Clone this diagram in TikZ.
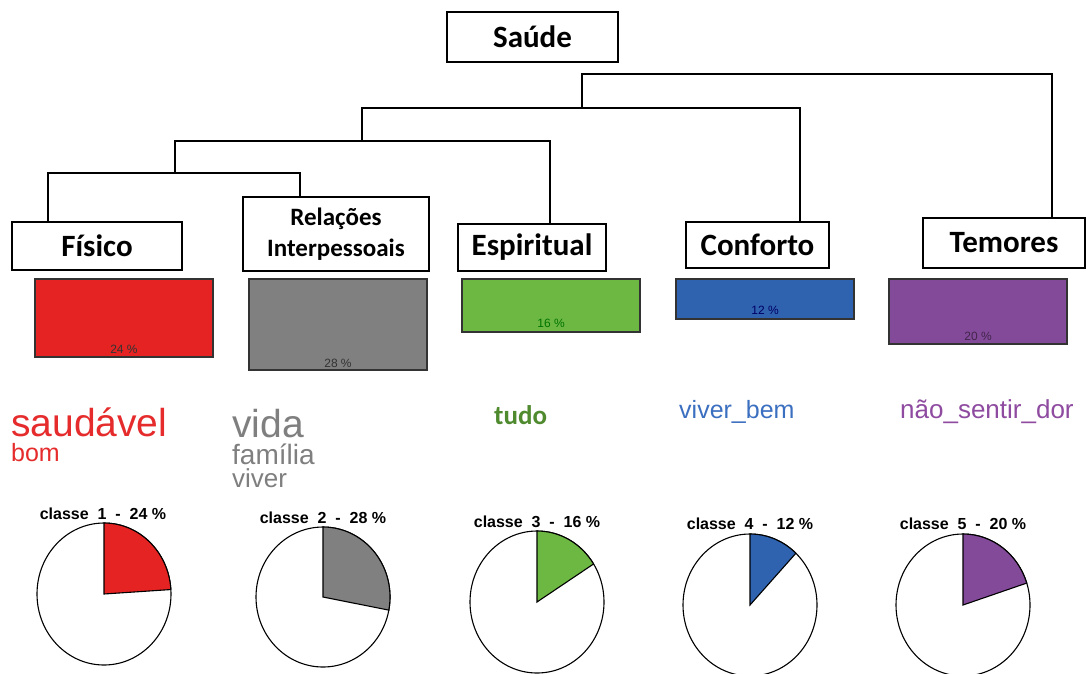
\documentclass[tikz,border=0pt]{standalone}
\usepackage{fontspec}
\setmainfont{Liberation Sans}
\newfontfamily\boxfont{Carlito}
\usetikzlibrary{shapes.geometric}
\definecolor{cred}{HTML}{E42322}
\definecolor{cgray}{HTML}{808080}
\definecolor{cgreen}{HTML}{6DB843}
\definecolor{cblue}{HTML}{2F63AF}
\definecolor{cpurple}{HTML}{834A99}
\definecolor{tred}{HTML}{E52B2B}
\definecolor{tgray}{HTML}{7F7F7F}
\definecolor{tgreen}{HTML}{4F8A2F}
\definecolor{tblue}{HTML}{3B6FC0}
\definecolor{tpurple}{HTML}{8E4BA0}
\tikzset{
  catbox/.style={draw=black, line width=1.3pt, fill=white, inner sep=0pt, outer sep=0pt, anchor=north west, font=\boxfont\bfseries\fontsize{31}{33}\selectfont, align=center},
  link/.style={draw=black, line width=1.4pt},
  bar/.style={draw=black!80, line width=1.3pt, inner sep=0pt, outer sep=0pt, anchor=north west, minimum width=178pt},
  pct/.style={font=\fontsize{12}{13}\selectfont, inner sep=0pt, anchor=base},
  word/.style={inner sep=0pt, anchor=base west},
  pie/.style={ellipse, draw=black, line width=1.1pt, fill=white, inner sep=0pt, outer sep=0pt},
  slice/.style={draw=black, line width=1.1pt},
  pietitle/.style={font=\bfseries\fontsize{16}{18}\selectfont, inner sep=0pt, anchor=base}
}
\begin{document}
\begin{tikzpicture}[x=1pt, y=-1pt]
\useasboundingbox[fill=white] (0,0) rectangle (1086,673);
% top box
\node[catbox, minimum width=171pt, minimum height=50pt] (saude) at (447,12) {Saúde};
% category boxes
\node[catbox, minimum width=170pt, minimum height=48pt] (fis) at (12,222) {Físico};
\node[catbox, minimum width=186pt, minimum height=74pt, font=\boxfont\bfseries\fontsize{25}{31}\selectfont] (rel) at (243,197) {Relações\\Interpessoais};
\node[catbox, minimum width=148pt, minimum height=47pt] (esp) at (458,224) {Espiritual};
\node[catbox, minimum width=143pt, minimum height=46pt] (conf) at (686,222) {Conforto};
\node[catbox, minimum width=162pt, minimum height=50pt] (tem) at (923,218) {Temores};
% dendrogram
\coordinate (a1) at (48,173); \coordinate (b1) at (300,173);
\draw[link] (fis.north -| a1) -- (a1) -- (b1) -- (rel.north -| b1);
\coordinate (m1) at (175,173); \coordinate (a2) at (175,141); \coordinate (b2) at (550,141);
\draw[link] (m1) -- (a2) -- (b2) -- (esp.north -| b2);
\coordinate (m2) at (362,141); \coordinate (a3) at (362,108); \coordinate (b3) at (800,108);
\draw[link] (m2) -- (a3) -- (b3) -- (conf.north -| b3);
\coordinate (m3) at (582,108); \coordinate (a4) at (582,74); \coordinate (b4) at (1052,74);
\draw[link] (m3) -- (a4) -- (b4) -- (tem.north -| b4);
% bars
\node[bar, fill=cred, minimum height=78pt] (bar1) at (35,279) {};
\node[bar, fill=cgray, minimum height=91pt] (bar2) at (249,279) {};
\node[bar, fill=cgreen, minimum height=53pt] (bar3) at (462,279) {};
\node[bar, fill=cblue, minimum height=40pt] (bar4) at (676,279) {};
\node[bar, fill=cpurple, minimum height=65pt] (bar5) at (889,279) {};
\node[pct, text=black!80] (q1) at ([yshift=4pt]bar1.south) {24 \%};
\node[pct, text=black!80] (q2) at ([yshift=3pt]bar2.south) {28 \%};
\node[pct, text=green!45!black] (q3) at ([yshift=5pt]bar3.south) {16 \%};
\node[pct, text=blue!40!black] (q4) at ([yshift=5pt]bar4.south) {12 \%};
\node[pct, text=cpurple!50!black] (q5) at ([yshift=4pt]bar5.south) {20 \%};
% words
\node[word, text=tred, font=\fontsize{39}{40}\selectfont] (w1) at (11,436) {saudável};
\node[word, text=tred, font=\fontsize{25}{26}\selectfont] (w2) at (11,461) {bom};
\node[word, text=tgray, font=\fontsize{39}{40}\selectfont] (w3) at (232,437) {vida};
\node[word, text=tgray, font=\fontsize{28}{29}\selectfont] (w4) at (232,464) {família};
\node[word, text=tgray, font=\fontsize{26}{27}\selectfont] (w5) at (232,487) {viver};
\node[word, text=tgreen, font=\boxfont\bfseries\fontsize{27}{28}\selectfont] (w6) at (494,424) {tudo};
\node[word, text=tblue, font=\fontsize{25}{26}\selectfont] (w7) at (679,418) {viver\_bem};
\node[word, text=tpurple, font=\fontsize{26}{27}\selectfont] (w8) at (900,418) {não\_sentir\_dor};
% pies
\node[pie, minimum width=134pt, minimum height=142pt] (p1) at (104,594) {};
\filldraw[slice, fill=cred] (p1.center) -- (p1.north) arc[start angle=90, end angle=3.6, x radius=67pt, y radius=71pt] -- cycle;
\node[pie, minimum width=134pt, minimum height=140pt] (p2) at (323,597) {};
\filldraw[slice, fill=cgray] (p2.center) -- (p2.north) arc[start angle=90, end angle=-10.8, x radius=67pt, y radius=70pt] -- cycle;
\node[pie, minimum width=134pt, minimum height=142pt] (p3) at (537,602) {};
\filldraw[slice, fill=cgreen] (p3.center) -- (p3.north) arc[start angle=90, end angle=32.4, x radius=67pt, y radius=71pt] -- cycle;
\node[pie, minimum width=134pt, minimum height=142pt] (p4) at (750,605) {};
\filldraw[slice, fill=cblue] (p4.center) -- (p4.north) arc[start angle=90, end angle=46.8, x radius=67pt, y radius=71pt] -- cycle;
\node[pie, minimum width=134pt, minimum height=142pt] (p5) at (963,605) {};
\filldraw[slice, fill=cpurple] (p5.center) -- (p5.north) arc[start angle=90, end angle=18, x radius=67pt, y radius=71pt] -- cycle;
\node[pietitle] (t1) at (103,519) {classe~ 1 ~-~ 24 \%};
\node[pietitle] (t2) at (323,523) {classe~ 2 ~-~ 28 \%};
\node[pietitle] (t3) at (537,527) {classe~ 3 ~-~ 16 \%};
\node[pietitle] (t4) at (750,529) {classe~ 4 ~-~ 12 \%};
\node[pietitle] (t5) at (963,529) {classe~ 5 ~-~ 20 \%};
\end{tikzpicture}
\end{document}
